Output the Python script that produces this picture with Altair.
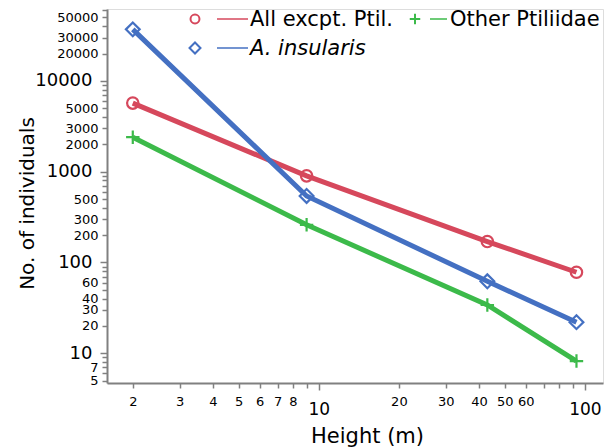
import altair as alt
import pandas as pd

# ---- data ----
heights = [2, 9, 43, 93]
series_names = ["All excpt. Ptil.", "Other Ptiliidae", "A. insularis"]
all_excpt = [5700, 900, 170, 78]
other_ptil = [2400, 260, 34, 8.2]
a_insularis = [37000, 540, 62, 22]
colors = ["#d6485c", "#3cba4a", "#4470c2"]

x_ticks = [2, 3, 4, 5, 6, 7, 8, 9, 10, 20, 30, 40, 50, 60, 70, 80, 90, 100]
x_labels = [2, 3, 4, 5, 6, 7, 8, 10, 20, 30, 40, 50, 60, 100]
y_ticks = [5, 6, 7, 8, 9, 10, 20, 30, 40, 50, 60, 70, 80, 90,
           100, 200, 300, 400, 500, 600, 700, 800, 900,
           1000, 2000, 3000, 4000, 5000, 6000, 7000, 8000, 9000,
           10000, 20000, 30000, 40000, 50000, 60000]
y_labels = [5, 7, 10, 20, 30, 40, 60, 100, 200, 300, 500, 1000, 2000, 3000,
            5000, 10000, 20000, 30000, 50000]
x_big = [10, 100]
y_big = [10, 100, 1000, 10000]

rows = []
for name, vals in zip(series_names, [all_excpt, other_ptil, a_insularis]):
    for h, v in zip(heights, vals):
        rows.append({"series": name, "height": h, "count": v})
df = pd.DataFrame(rows)

FONT = "DejaVu Sans"
AX = "#808080"


def big_test(vals):
    return "indexof([" + ",".join(str(v) for v in vals) + "], datum.value) >= 0"


def lab_expr(vals):
    return ("indexof([" + ",".join(str(v) for v in vals) +
            "], datum.value) >= 0 ? datum.label : ''")


x_axis = alt.Axis(
    values=x_ticks, format="d", labelExpr=lab_expr(x_labels),
    labelFontSize={"condition": {"test": big_test(x_big), "value": 17}, "value": 13},
    labelPadding={"condition": {"test": big_test(x_big), "value": 11}, "value": 7},
    tickSize={"condition": {"test": big_test(x_big), "value": 7}, "value": 5},
    labelOverlap=False, labelFlush=False, labelBound=False,
    labelFont=FONT, labelColor="black",
    domainColor=AX, domainWidth=2, tickColor=AX, tickWidth=1.5, grid=False,
    title="Height (m)", titleFont=FONT, titleFontSize=21, titleFontWeight="normal",
    titleColor="black", titleX=260, titleY=59, titleBaseline="alphabetic",
)
y_axis = alt.Axis(
    values=y_ticks, format="d", labelExpr=lab_expr(y_labels),
    labelFontSize={"condition": {"test": big_test(y_big), "value": 18}, "value": 13},
    labelPadding={"condition": {"test": big_test(y_big), "value": 8}, "value": 4},
    tickSize={"condition": {"test": big_test(y_big), "value": 7}, "value": 5},
    labelOverlap=False, labelFlush=False, labelBound=False,
    labelFont=FONT, labelColor="black",
    domainColor=AX, domainWidth=2, tickColor=AX, tickWidth=1.5, grid=False,
    title="No. of individuals", titleFont=FONT, titleFontSize=20,
    titleFontWeight="normal", titleColor="black",
    titleX=-74, titleY=194, titleBaseline="alphabetic", titleAngle=270,
)

xs = alt.Scale(type="log", domain=[1.6, 117], nice=False)
ys = alt.Scale(type="log", domain=[4.7, 62000], nice=False)
cs = alt.Scale(domain=series_names, range=colors)

base = alt.Chart(df).encode(
    x=alt.X("height:Q", scale=xs, axis=x_axis),
    y=alt.Y("count:Q", scale=ys, axis=y_axis),
    color=alt.Color("series:N", scale=cs, legend=None),
)

layers = []
for name in series_names:
    layers.append(
        base.transform_filter(alt.datum.series == name)
        .mark_line(strokeWidth=5, strokeCap="butt")
        .encode(order="height:Q")
    )

shapes = {"All excpt. Ptil.": ("circle", 130),
          "Other Ptiliidae": ("M-1,0H1M0,-1V1", 180),
          "A. insularis": ("diamond", 190)}
for name in series_names:
    shp, sz = shapes[name]
    layers.append(
        base.transform_filter(alt.datum.series == name)
        .mark_point(shape=shp, size=sz, filled=False, strokeWidth=2.2, opacity=1)
    )

# ---- legend (drawn manually) ----
leg_df = pd.DataFrame({"series": series_names})
leg_sym_x = [88, 308, 88]
leg_line_x = [(110, 141), (323, 340), (110, 141)]
leg_text_x = [143, 343, 143]
leg_y = [10, 10, 39]
leg_shapes = ["circle", "M-1,0H1M0,-1V1", "diamond"]
leg_sizes = [80, 110, 120]

for i, name in enumerate(series_names):
    one = alt.Chart(leg_df).transform_filter(alt.datum.series == name)
    layers.append(one.mark_point(shape=leg_shapes[i], size=leg_sizes[i], filled=False,
                                 strokeWidth=2, color=colors[i], opacity=1)
                  .encode(x=alt.value(leg_sym_x[i]), y=alt.value(leg_y[i])))
    layers.append(one.mark_rule(color=colors[i], strokeWidth=1.5)
                  .encode(x=alt.value(leg_line_x[i][0]), x2=alt.value(leg_line_x[i][1]),
                          y=alt.value(leg_y[i])))
    layers.append(one.mark_text(align="left", baseline="middle", font=FONT, fontSize=21,
                                color="black",
                                fontStyle="italic" if name == "A. insularis" else "normal")
                  .encode(x=alt.value(leg_text_x[i]), y=alt.value(leg_y[i] + 1),
                          text="series:N"))

chart = alt.layer(*layers).properties(
    width=496, height=374,
    autosize=alt.AutoSizeParams(type="none"),
    padding={"left": 99, "top": 1, "right": 4, "bottom": 64},
).configure_view(stroke=None).configure(background="white")

chart.save("out.html", embed_options={"renderer": "svg", "actions": False})
